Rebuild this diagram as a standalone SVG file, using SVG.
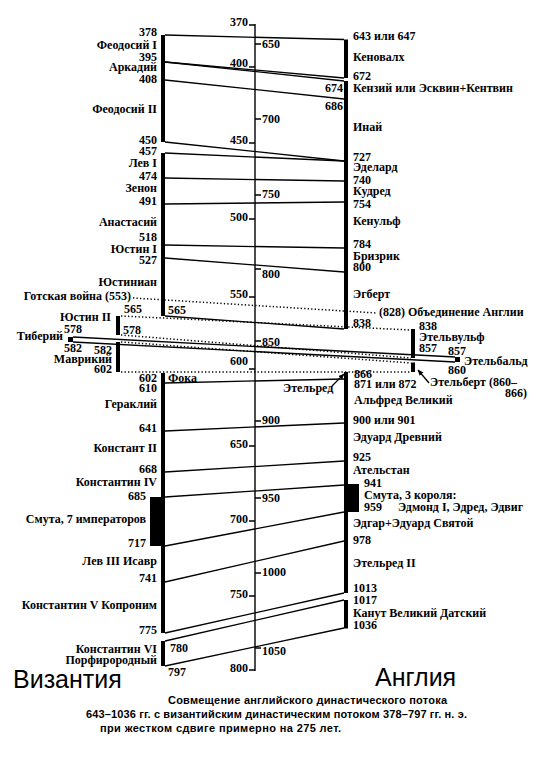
<svg xmlns="http://www.w3.org/2000/svg" width="550" height="764" viewBox="0 0 550 764">
<style>
.t{font-family:"Liberation Serif","DejaVu Serif",serif;font-size:12px;font-weight:bold;fill:#000}
.e{text-anchor:end}
.bar{fill:#000}
.ln{stroke:#000;stroke-width:1.3;fill:none}
.dt{stroke:#000;stroke-width:1.5;stroke-dasharray:1.3 2.2;fill:none}
.ax{stroke:#000;stroke-width:1.4;fill:none}
.big{font-family:"Liberation Sans",Arial,sans-serif;font-size:25px;fill:#000}
.cap{font-family:"Liberation Sans",Arial,sans-serif;font-size:11px;font-weight:bold;fill:#000}
</style>
<defs>
<marker id="ah" viewBox="0 0 6 6" refX="5.5" refY="3" markerWidth="6" markerHeight="6" markerUnits="userSpaceOnUse" orient="auto">
<path d="M0,0.5 L6,3 L0,5.5 z" fill="#000"/>
</marker>
</defs>
<rect x="0" y="0" width="550" height="764" fill="#fff"/>

<g id="axis">
<line class="ax" x1="255" y1="24" x2="255" y2="671"/>
<g id="scale-left">
<path class="ax" d="M249,25H255M249,67H255M249,143H255M249,219H255M249,297H255M249,369H255M249,446H255M249,521H255M249,596H255M249,670H255"/>
<text class="t e" x="248" y="26">370</text>
<text class="t e" x="248" y="67">400</text>
<text class="t e" x="248" y="144">450</text>
<text class="t e" x="248" y="221">500</text>
<text class="t e" x="248" y="298">550</text>
<text class="t e" x="248" y="365">600</text>
<text class="t e" x="248" y="448">650</text>
<text class="t e" x="248" y="523">700</text>
<text class="t e" x="248" y="598">750</text>
<text class="t e" x="248" y="672">800</text>
</g>
<g id="scale-right">
<path class="ax" d="M255,44H261M255,119H261M255,195H261M255,269H261M255,341H261M255,421H261M255,498H261M255,573H261M255,648H261"/>
<text class="t" x="262" y="48">650</text>
<text class="t" x="262" y="123">700</text>
<text class="t" x="262" y="198">750</text>
<text class="t" x="262" y="278">800</text>
<text class="t" x="262" y="346">850</text>
<text class="t" x="262" y="424">900</text>
<text class="t" x="262" y="502">950</text>
<text class="t" x="262" y="576">1000</text>
<text class="t" x="262" y="655">1050</text>
</g>
</g>

<g id="connectors">
<line class="ln" x1="165" y1="35" x2="344" y2="39.5"/>
<line class="ln" x1="165" y1="62" x2="344" y2="78"/>
<line class="ln" x1="165" y1="62" x2="344" y2="81"/>
<line class="ln" x1="165" y1="80" x2="344" y2="99"/>
<line class="ln" x1="165" y1="142" x2="344" y2="161"/>
<line class="ln" x1="165" y1="153" x2="344" y2="161"/>
<line class="ln" x1="165" y1="178" x2="344" y2="181"/>
<line class="ln" x1="165" y1="204" x2="344" y2="202"/>
<line class="ln" x1="165" y1="245" x2="344" y2="248"/>
<line class="ln" x1="165" y1="258" x2="344" y2="272"/>
<line class="ln" x1="165" y1="316" x2="344" y2="329"/>
<line class="dt" x1="133" y1="298" x2="377" y2="313"/>
<line class="dt" x1="121" y1="316" x2="411" y2="330"/>
<line class="dt" x1="121" y1="335" x2="411" y2="358"/>
<line class="ln" x1="73" y1="337" x2="455" y2="357"/>
<line class="ln" x1="73" y1="342" x2="455" y2="362"/>
<line class="dt" x1="121" y1="342" x2="411" y2="363"/>
<line class="dt" x1="121" y1="372" x2="411" y2="372"/>
<line class="ln" x1="165" y1="383" x2="344" y2="379"/>
<line class="ln" x1="165" y1="431" x2="344" y2="423"/>
<line class="ln" x1="165" y1="472" x2="344" y2="461"/>
<line class="ln" x1="165" y1="497" x2="344" y2="485"/>
<line class="ln" x1="165" y1="546" x2="344" y2="512"/>
<line class="ln" x1="165" y1="582" x2="344" y2="541"/>
<line class="ln" x1="165" y1="633" x2="344" y2="593"/>
<line class="ln" x1="165" y1="641" x2="344" y2="600"/>
<line class="ln" x1="165" y1="666" x2="344" y2="628"/>
<line class="ln" x1="332" y1="386" x2="344" y2="374" marker-end="url(#ah)"/>
<line class="ln" x1="429" y1="383" x2="418" y2="370" marker-end="url(#ah)"/>
</g>

<g id="byzantium">
<g id="b-theodosius1"><rect class="bar" x="161" y="35" width="4" height="107"/>
<text class="t e" x="157" y="36">378</text><text class="t e" x="157" y="49">Феодосий I</text><text class="t e" x="157" y="61">395</text><text class="t e" x="157" y="71">Аркадий</text><text class="t e" x="157" y="83">408</text><text class="t e" x="157" y="113">Феодосий II</text><text class="t e" x="157" y="144">450</text></g>
<g id="b-leo1"><rect class="bar" x="161" y="153" width="4" height="163"/>
<text class="t e" x="157" y="155">457</text><text class="t e" x="157" y="167">Лев I</text><text class="t e" x="157" y="180">474</text><text class="t e" x="157" y="192">Зенон</text><text class="t e" x="157" y="205">491</text><text class="t e" x="157" y="226">Анастасий</text><text class="t e" x="157" y="241">518</text><text class="t e" x="157" y="253">Юстин I</text><text class="t e" x="157" y="264">527</text><text class="t e" x="157" y="286">Юстиниан</text>
<text class="t e" x="131" y="300">Готская война (553)</text>
<text class="t" x="168" y="314">565</text></g>
<g id="b-justin2"><rect class="bar" x="116" y="316" width="4" height="19"/>
<text class="t e" x="142" y="313">565</text><text class="t e" x="111" y="321">Юстин II</text><text class="t" x="123" y="334">578</text></g>
<g id="b-tiberius"><rect class="bar" x="68" y="337" width="5" height="5"/>
<text class="t e" x="82" y="333">578</text><text class="t e" x="63" y="340">Тиберий</text><text class="t e" x="82" y="352">582</text></g>
<g id="b-maurice"><rect class="bar" x="116" y="342" width="4" height="30"/>
<text class="t e" x="112" y="354">582</text><text class="t e" x="112" y="363">Маврикий</text><text class="t e" x="112" y="373">602</text></g>
<g id="b-phocas"><rect class="bar" x="161" y="373" width="4" height="260"/>
<text class="t e" x="157" y="382">602</text><text class="t" x="168" y="382">Фока</text><text class="t e" x="157" y="392">610</text><text class="t e" x="157" y="408">Гераклий</text><text class="t e" x="157" y="432">641</text><text class="t e" x="157" y="452">Констант II</text><text class="t e" x="157" y="473">668</text><text class="t e" x="157" y="486">Константин IV</text>
<rect class="bar" x="150" y="497" width="15" height="49"/>
<text class="t e" x="146" y="500">685</text><text class="t e" x="146" y="523">Смута, 7 императоров</text><text class="t e" x="146" y="547">717</text>
<text class="t e" x="157" y="565">Лев III Исавр</text><text class="t e" x="157" y="582">741</text><text class="t e" x="157" y="609">Константин V Копроним</text><text class="t e" x="157" y="634">775</text></g>
<g id="b-constantine6"><rect class="bar" x="161" y="641" width="4" height="25"/>
<text class="t e" x="157" y="653">Константин VI</text><text class="t e" x="157" y="664">Порфирородный</text><text class="t" x="170" y="652">780</text><text class="t" x="168" y="676">797</text></g>
<text class="big" x="13" y="688">Византия</text>
</g>

<g id="england">
<g id="e-cenwalh"><rect class="bar" x="344" y="39.5" width="4" height="38.5"/>
<text class="t" x="353" y="40">643 или 647</text><text class="t" x="353" y="61">Кеновалх</text><text class="t" x="353" y="80">672</text></g>
<g id="e-main1"><rect class="bar" x="344" y="81" width="4" height="248"/>
<text class="t e" x="343" y="92">674</text><text class="t" x="353" y="92">Кензий или Эсквин+Кентвин</text><text class="t e" x="343" y="110">686</text><text class="t" x="353" y="131">Инай</text><text class="t" x="353" y="161">727</text><text class="t" x="353" y="171">Эделард</text><text class="t" x="353" y="184">740</text><text class="t" x="353" y="195">Кудред</text><text class="t" x="353" y="208">754</text><text class="t" x="353" y="225">Кенульф</text><text class="t" x="353" y="248">784</text><text class="t" x="353" y="260">Бризрик</text><text class="t" x="353" y="271">800</text><text class="t" x="353" y="298">Эгберт</text><text class="t" x="379" y="316">(828) Объединение Англии</text><text class="t" x="353" y="327">838</text></g>
<g id="e-wessex"><rect class="bar" x="411" y="329" width="4" height="29"/><rect class="bar" x="411" y="362.5" width="4" height="9.5"/>
<text class="t" x="419" y="330">838</text><text class="t" x="419" y="341">Этельвульф</text><text class="t" x="419" y="352">857</text></g>
<g id="e-ethelbald"><rect class="bar" x="455" y="357" width="5" height="5"/>
<text class="t" x="448" y="355">857</text><text class="t" x="464" y="365">Этельбальд</text><text class="t" x="448" y="374">860</text></g>
<g id="e-ethelbert"><text class="t" x="430" y="386">Этельберт (860–</text><text class="t e" x="527" y="397">866)</text></g>
<g id="e-main2"><rect class="bar" x="344" y="372" width="4" height="221"/>
<text class="t" x="283" y="392">Этельред</text>
<text class="t" x="354" y="378">866</text><text class="t" x="354" y="388">871 или 872</text><text class="t" x="354" y="404">Альфред Великий</text><text class="t" x="353" y="424">900 или 901</text><text class="t" x="353" y="441">Эдуард Древний</text><text class="t" x="353" y="461">925</text><text class="t" x="353" y="474">Ательстан</text>
<rect class="bar" x="344" y="484" width="15" height="28"/>
<text class="t" x="364" y="487">941</text><text class="t" x="364" y="499">Смута, 3 короля:</text><text class="t" x="364" y="511">959</text><text class="t" x="398" y="511">Эдмонд I, Эдред, Эдвиг</text>
<text class="t" x="353" y="527">Эдгар+Эдуард Святой</text><text class="t" x="353" y="544">978</text><text class="t" x="353" y="567">Этельред II</text><text class="t" x="353" y="592">1013</text></g>
<g id="e-canute"><rect class="bar" x="344" y="600" width="4" height="28.5"/>
<text class="t" x="353" y="604">1017</text><text class="t" x="353" y="617">Канут Великий Датский</text><text class="t" x="353" y="629">1036</text></g>
<text class="big" x="375" y="686">Англия</text>
</g>

<g id="caption">
<text class="cap" x="168" y="704" textLength="279" lengthAdjust="spacing">Совмещение английского династического потока</text>
<text class="cap" x="86" y="718" textLength="381" lengthAdjust="spacing">643–1036 гг. с византийским династическим потоком 378–797 гг. н. э.</text>
<text class="cap" x="100" y="732" textLength="241" lengthAdjust="spacing">при жестком сдвиге примерно на 275 лет.</text>
</g>
</svg>
